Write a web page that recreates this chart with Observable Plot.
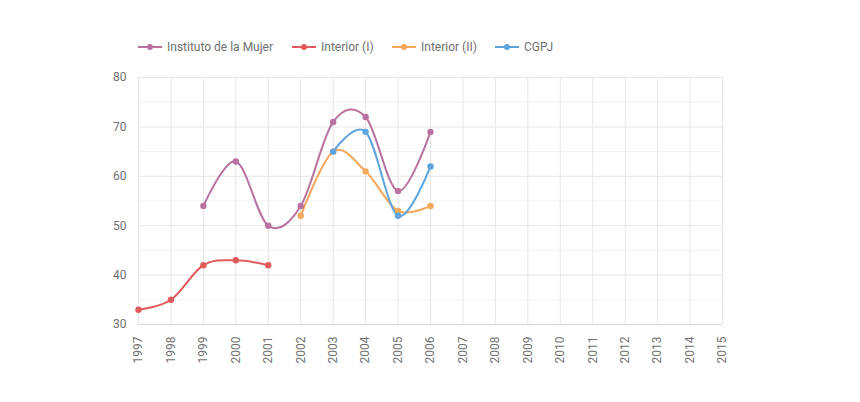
<!DOCTYPE html>
<html><head><meta charset="utf-8">
<script src="https://cdn.jsdelivr.net/npm/d3@7"></script>
<script src="https://cdn.jsdelivr.net/npm/@observablehq/plot@0.6"></script>
<style>
body{margin:0;background:#fff;font-family:Roboto,"Liberation Sans",sans-serif;}
#legend{position:relative;height:60px;width:860px;}
.item{position:absolute;top:40px;font-size:12px;color:#707070;line-height:14px;white-space:nowrap;}
.item svg{vertical-align:middle;margin-right:5px;position:relative;top:-1px}
</style></head>
<body>
<div id="legend"></div>
<div id="chart"></div>
<script>
const years = [1997,1998,1999,2000,2001,2002,2003,2004,2005,2006,2007,2008,2009,2010,2011,2012,2013,2014,2015];
const seriesNames = ["Instituto de la Mujer","Interior (I)","Interior (II)","CGPJ"];
const seriesColors = ["#b9719e","#e05a5c","#f5a75c","#5fa3dd"];
const mujerYears = [1999,2000,2001,2002,2003,2004,2005,2006];
const mujerValues = [54,63,50,54,71,72,57,69];
const interior1Years = [1997,1998,1999,2000,2001];
const interior1Values = [33,35,42,43,42];
const interior2Years = [2002,2003,2004,2005,2006];
const interior2Values = [52,65,61,53,54];
const cgpjYears = [2003,2004,2005,2006];
const cgpjValues = [65,69,52,62];
const yTicks = [30,40,50,60,70,80];
const yMinor = [35,45,55,65,75];

const seriesData = [
  [mujerYears, mujerValues],
  [interior1Years, interior1Values],
  [interior2Years, interior2Values],
  [cgpjYears, cgpjValues]
];
const rows = [];
seriesData.forEach(([ys, vs], i) => ys.forEach((y, j) => rows.push({series: seriesNames[i], year: y, value: vs[j]})));

// legend
const legendX = [138, 292, 392, 495];
const leg = document.getElementById("legend");
seriesNames.forEach((n, i) => {
  const d = document.createElement("div");
  d.className = "item";
  d.style.left = legendX[i] + "px";
  d.innerHTML = `<svg width="24" height="10"><line x1="0" x2="24" y1="5" y2="5" stroke="${seriesColors[i]}" stroke-width="2"/><circle cx="12" cy="5" r="3" fill="${seriesColors[i]}"/></svg>${n}`;
  leg.appendChild(d);
});

const chart = Plot.plot({
  width: 860,
  height: 342,
  marginLeft: 138,
  marginRight: 138,
  marginTop: 17,
  marginBottom: 78,
  style: {fontFamily: "Roboto, 'Liberation Sans', sans-serif", fontSize: "12px", color: "#707070", background: "#fff"},
  x: {domain: [1997, 2015], ticks: years, tickFormat: d => String(d), tickRotate: -90, tickSize: 0, tickPadding: 12, label: null},
  y: {domain: [30, 80], ticks: yTicks, tickSize: 0, tickPadding: 12, label: null},
  color: {domain: seriesNames, range: seriesColors},
  marks: [
    Plot.ruleY(yMinor, {stroke: "#f2f2f2", strokeWidth: 1}),
    Plot.ruleY(yTicks, {stroke: "#e6e6e6", strokeWidth: 1}),
    Plot.ruleX(years, {stroke: "#e6e6e6", strokeWidth: 1}),
    Plot.ruleY([30], {stroke: "#d8d8d8", strokeWidth: 1}),
    Plot.line(rows, {x: "year", y: "value", z: "series", stroke: "series", strokeWidth: 2, curve: "cardinal", tension: 0}),
    Plot.dot(rows, {x: "year", y: "value", fill: "series", r: 3.2})
  ]
});
document.getElementById("chart").appendChild(chart);
</script>
</body></html>
